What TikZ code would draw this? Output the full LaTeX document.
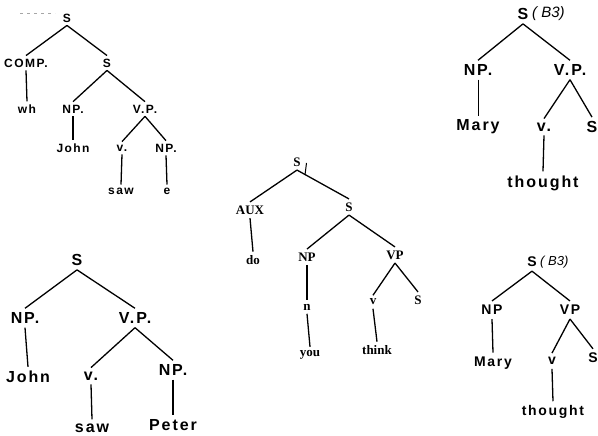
\documentclass[tikz,border=0pt]{standalone}
\usepackage{fontspec}
\newfontfamily\sansls[LetterSpace=12]{Liberation Sans}
\newfontfamily\sansit{Liberation Sans}
\newfontfamily\serifb{Liberation Serif}
\begin{document}
\begin{tikzpicture}[x=1pt,y=-1pt,
  base/.style={inner xsep=1pt, inner ysep=3pt, anchor=center},
  ta/.style={base, font=\sansls\bfseries\fontsize{12}{12}\selectfont},
  tb/.style={base, inner ysep=4pt, font=\sansls\bfseries\fontsize{16}{16}\selectfont},
  tc/.style={base, inner ysep=3.5pt, font=\serifb\bfseries\fontsize{13}{13}\selectfont},
  td/.style={base, inner ysep=4pt, font=\sansls\bfseries\fontsize{14}{14}\selectfont},
  edge/.style={line width=1.3pt, black},
  bthree/.style={label={[inner sep=0pt, anchor=west, font=\sansit\itshape\fontsize{#1}{#1}\selectfont]east:\,( B3)}}
]
\useasboundingbox (0,0) rectangle (598,436);

% stray dotted mark top-left
\coordinate (dA) at (20,13);
\coordinate (dB) at (55,13);
\draw[gray!70, line width=0.8pt, dash pattern=on 3pt off 4pt] (dA) -- (dB);

% ---------- Tree 1 (top-left) ----------
\node[ta] (a0) at (67,18) {S};
\node[ta] (a1) at (26,63) {COMP.};
\node[ta] (a2) at (107,63) {S};
\node[ta] (a3) at (27,109) {wh};
\node[ta] (a4) at (73,109) {NP.};
\node[ta] (a5) at (145,109) {V.P.};
\node[ta] (a6) at (73,148) {John};
\node[ta] (a7) at (122,148) {v.};
\node[ta] (a8) at (166,148) {NP.};
\node[ta] (a9) at (121,191) {saw};
\node[ta] (a10) at (167,191) {e};
\draw[edge] (a0.south) -- (a1.north);
\draw[edge] (a0.south) -- (a2.north);
\draw[edge] (a1.south) -- (a3.north);
\draw[edge] (a2.south) -- (a4.north);
\draw[edge] (a2.south) -- (a5.north);
\draw[edge] (a4.south) -- (a6.north);
\draw[edge] (a5.south) -- (a7.north);
\draw[edge] (a5.south) -- (a8.north);
\draw[edge] (a7.south) -- (a9.north);
\draw[edge] (a8.south) -- (a10.north);

% ---------- Tree 2 (bottom-left) ----------
\node[tb] (b0) at (77,260) {S};
\node[tb] (b1) at (25,318) {NP.};
\node[tb] (b2) at (135,318) {V.P.};
\node[tb] (b3) at (28,377) {John};
\node[tb] (b4) at (91,376) {v.};
\node[tb] (b5) at (173,370) {NP.};
\node[tb] (b6) at (92,428) {saw};
\node[tb] (b7) at (173,425) {Peter};
\draw[edge] (b0.south) -- (b1.north);
\draw[edge] (b0.south) -- (b2.north);
\draw[edge] (b1.south) -- (b3.north);
\draw[edge] (b2.south) -- (b4.north);
\draw[edge] (b2.south) -- (b5.north);
\draw[edge] (b4.south) -- (b6.north);
\draw[edge] (b5.south) -- (b7.north);

% ---------- Tree 3 (centre, serif) ----------
\node[tc] (c0) at (297,162) {S};
\node[tc] (c1) at (250,210) {AUX};
\node[tc] (c2) at (349,207) {S};
\node[tc] (c3) at (253,260) {do};
\node[tc] (c4) at (307,257) {NP};
\node[tc] (c5) at (395,255) {VP};
\node[tc] (c6) at (307,307) {n};
\node[tc] (c7) at (373,302) {v};
\node[tc] (c8) at (418,300) {S};
\node[tc] (c9) at (310,355) {you};
\node[tc] (c10) at (377,350) {think};
\coordinate (ctA) at (306.5,163);
\coordinate (ctB) at (305,175);
\draw[line width=1pt] (ctA) -- (ctB);
\draw[edge] (c0.south) -- (c1.north);
\draw[edge] (c0.south) -- (c2.north);
\draw[edge] (c1.south) -- (c3.north);
\draw[edge] (c2.south) -- (c4.north);
\draw[edge] (c2.south) -- (c5.north);
\draw[edge] (c4.south) -- (c6.north);
\draw[edge] (c6.south) -- (c9.north);
\draw[edge] (c5.south) -- (c7.north);
\draw[edge] (c5.south) -- (c8.north);
\draw[edge] (c7.south) -- (c10.north);

% ---------- Tree 4 (top-right) ----------
\node[tb, bthree=15] (d0) at (523,14) {S};
\node[tb] (d1) at (478,70) {NP.};
\node[tb] (d2) at (570,70) {V.P.};
\node[tb] (d3) at (478,127) {Mary};
\node[tb] (d4) at (544,127) {v.};
\node[tb] (d5) at (592,127) {S};
\node[tb] (d6) at (543,183) {thought};
\draw[edge] (d0.south) -- (d1.north);
\draw[edge] (d0.south) -- (d2.north);
\draw[line width=0.8pt] (d1.south) -- (d3.north);
\draw[edge] (d2.south) -- (d4.north);
\draw[edge] (d2.south) -- (d5.north);
\draw[edge] (d4.south) -- (d6.north);

% ---------- Tree 5 (bottom-right) ----------
\node[td, bthree=13] (e0) at (532,262) {S};
\node[td] (e1) at (492,310) {NP};
\node[td] (e2) at (570,310) {VP};
\node[td] (e3) at (493,363) {Mary};
\node[td] (e4) at (552,361) {v};
\node[td] (e5) at (593,358) {S};
\node[td] (e6) at (553,412) {thought};
\draw[edge] (e0.south) -- (e1.north);
\draw[edge] (e0.south) -- (e2.north);
\draw[edge] (e1.south) -- (e3.north);
\draw[edge] (e2.south) -- (e4.north);
\draw[edge] (e2.south) -- (e5.north);
\draw[edge] (e4.south) -- (e6.north);
\end{tikzpicture}
\end{document}
